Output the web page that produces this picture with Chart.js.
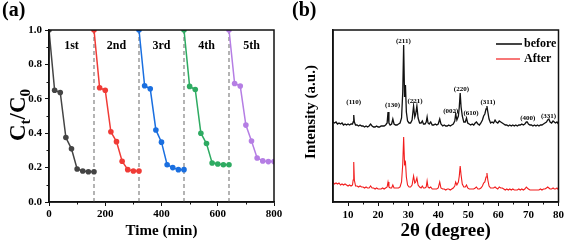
<!DOCTYPE html>
<html>
<head>
<meta charset="utf-8">
<script src="https://cdn.jsdelivr.net/npm/chart.js@4.4.0/dist/chart.umd.min.js"></script>
<style>
    html, body { margin: 0; padding: 0; background: #fff; }
    #wrap { position: relative; width: 567px; height: 243px; }
    #degChart { position: absolute; left: 0; top: 0; }
    #xrdChart { position: absolute; left: 290px; top: 0; }
</style>
</head>
<body>
<div id="wrap">
    <canvas id="degChart" width="290" height="243"></canvas>
    <canvas id="xrdChart" width="277" height="243"></canvas>
</div>
<script>
// ---- panel (a): cycling test data ----
const sampleTimes = [0, 20, 40, 60, 80, 100, 120, 140, 160];
const cycleStarts = [0, 160, 320, 480, 640];
const cycleNames = ['1st', '2nd', '3rd', '4th', '5th'];
const cycle1 = [1.0, 0.65, 0.637, 0.375, 0.309, 0.192, 0.18, 0.176, 0.176];
const cycle2 = [1.0, 0.664, 0.65, 0.408, 0.351, 0.237, 0.188, 0.18, 0.18];
const cycle3 = [1.0, 0.676, 0.658, 0.419, 0.348, 0.217, 0.2, 0.188, 0.188];
const cycle4 = [1.0, 0.672, 0.654, 0.4, 0.34, 0.227, 0.221, 0.217, 0.217];
const cycle5 = [1.0, 0.689, 0.674, 0.447, 0.355, 0.256, 0.239, 0.235, 0.235];
const timeTicks = [0, 200, 400, 600, 800];
const ratioTicks = [0, 0.2, 0.4, 0.6, 0.8, 1.0];

// ---- panel (b): XRD patterns ----
const xrdAngle = [
    5.0, 5.5, 6.0, 6.5, 7.0, 7.5, 8.0, 8.5, 9.0, 9.5,
    10.0, 10.5, 11.0, 11.5, 11.7, 11.9, 12.1, 12.5, 13.0, 13.5,
    14.0, 14.5, 15.0, 15.5, 16.0, 16.5, 17.0, 17.5, 18.0, 18.5,
    19.0, 19.5, 20.0, 20.5, 21.0, 21.5, 22.0, 22.5, 23.0, 23.3,
    23.6, 24.0, 24.5, 24.9, 25.3, 25.8, 26.3, 26.8, 27.3, 27.8,
    28.2, 28.5, 28.8, 29.1, 29.4, 29.8, 30.3, 30.8, 31.3, 31.8,
    32.2, 32.5, 32.9, 33.3, 33.8, 34.3, 34.7, 35.1, 35.6, 36.0,
    36.3, 36.6, 37.0, 37.5, 38.0, 38.5, 39.0, 39.5, 40.0, 40.5,
    40.9, 41.5, 42.0, 42.5, 43.0, 43.5, 44.0, 44.5, 45.0, 45.5,
    45.8, 46.2, 46.7, 47.0, 47.3, 47.6, 48.0, 48.5, 49.0, 49.4,
    49.8, 50.3, 50.8, 51.3, 51.8, 52.3, 52.7, 53.2, 53.7, 54.2,
    54.7, 55.1, 55.5, 55.9, 56.2, 56.5, 56.9, 57.4, 57.9, 58.4,
    58.9, 59.3, 59.8, 60.3, 60.8, 61.3, 61.8, 62.3, 62.8, 63.3,
    63.8, 64.3, 64.8, 65.3, 65.8, 66.3, 66.8, 67.3, 67.8, 68.3,
    68.8, 69.3, 69.6, 70.0, 70.5, 71.0, 71.5, 72.0, 72.5, 73.0,
    73.5, 74.0, 74.5, 75.0, 75.5, 76.0, 76.4, 76.8, 77.2, 77.7,
    78.2, 78.6, 79.0, 79.5, 80.0
];
const xrdBefore = [
    80, 79, 80, 78, 79, 78, 79, 77, 78, 77,
    78, 77, 78, 78, 80, 87, 80, 77, 77, 76,
    77, 76, 76, 75, 76, 75, 76, 78, 76, 75,
    75, 76, 75, 75, 76, 76, 76, 77, 79, 90,
    79, 77, 78, 83, 78, 77, 77, 78, 79, 84,
    110, 157, 105, 117, 90, 81, 79, 79, 82, 96,
    85, 88, 96, 84, 79, 79, 81, 78, 78, 80,
    85, 79, 78, 80, 77, 77, 78, 77, 78, 83,
    78, 76, 77, 76, 76, 77, 76, 77, 78, 81,
    88, 82, 86, 95, 109, 95, 86, 80, 80, 84,
    79, 78, 77, 78, 77, 79, 80, 78, 77, 79,
    82, 86, 88, 93, 96, 90, 83, 79, 80, 79,
    82, 80, 79, 81, 80, 79, 78, 77, 77, 76,
    77, 76, 77, 76, 77, 76, 77, 77, 78, 77,
    78, 80, 80, 78, 77, 77, 76, 77, 76, 77,
    76, 77, 77, 78, 79, 80, 82, 83, 80, 79,
    81, 80, 79, 80, 78
];
const xrdAfter = [
    20, 18, 19, 18, 19, 17, 18, 17, 18, 17,
    16, 17, 16, 17, 22, 40, 22, 16, 16, 15,
    16, 15, 15, 14, 15, 14, 14, 16, 14, 14,
    13, 14, 13, 13, 13, 14, 13, 14, 15, 20,
    15, 14, 14, 17, 14, 14, 14, 14, 15, 20,
    38, 65, 38, 40, 25, 17, 15, 15, 17, 26,
    19, 20, 24, 17, 15, 14, 16, 14, 14, 15,
    21, 15, 14, 15, 13, 13, 13, 13, 14, 20,
    14, 13, 13, 12, 13, 13, 12, 13, 14, 16,
    20, 17, 20, 26, 36, 27, 18, 15, 15, 17,
    14, 13, 13, 13, 13, 14, 15, 13, 13, 14,
    16, 19, 20, 25, 29, 22, 16, 14, 14, 14,
    15, 14, 13, 15, 14, 14, 13, 12, 13, 12,
    13, 12, 13, 12, 12, 12, 13, 12, 13, 12,
    13, 15, 14, 13, 12, 12, 12, 12, 12, 12,
    12, 13, 12, 13, 13, 14, 15, 14, 13, 13,
    14, 13, 13, 14, 12
];
const angleTicks = [10, 20, 30, 40, 50, 60, 70, 80];
const peakNames = ['(110)', '(130)', '(211)', '(221)', '(002)', '(220)', '(610)', '(311)', '(400)', '(331)'];
const peakAngles = [11.9, 24.8, 28.4, 32.3, 44.2, 47.7, 50.9, 56.5, 69.8, 76.7];
const peakLabelY = [100, 97, 161, 101, 91, 113, 89, 100, 84, 86];

const serif = "'Liberation Serif', 'Times New Roman', serif";
const cycleColors = ['#444444', '#f03b36', '#1a6fe0', '#2eab62', '#b57ee4'];

// draws the box round the plot area
function drawFrame(ctx, area) {
    ctx.save();
    ctx.strokeStyle = '#111';
    ctx.lineWidth = 1.5;
    ctx.strokeRect(area.left, area.top, area.right - area.left, area.bottom - area.top);
    ctx.restore();
}

const degDecor = {
    id: 'degDecor',
    beforeDatasetsDraw(chart) {
        const { ctx, scales: { x, y } } = chart;
        ctx.save();
        ctx.strokeStyle = '#8c8c8c';
        ctx.lineWidth = 1.3;
        ctx.setLineDash([4, 3]);
        cycleStarts.slice(1).forEach(function(t) {
            const px = x.getPixelForValue(t);
            ctx.beginPath();
            ctx.moveTo(px, y.getPixelForValue(0));
            ctx.lineTo(px, y.getPixelForValue(1));
            ctx.stroke();
        });
        ctx.restore();

        // cycle labels
        ctx.save();
        ctx.fillStyle = '#000';
        ctx.font = 'bold 12px ' + serif;
        ctx.textAlign = 'center';
        ctx.textBaseline = 'middle';
        cycleNames.forEach(function(name, i) {
            ctx.fillText(name, x.getPixelForValue(cycleStarts[i] + 80), y.getPixelForValue(0.91));
        });
        ctx.restore();
    },
    afterDraw(chart) {
        const { ctx, chartArea, scales: { x, y } } = chart;
        drawFrame(ctx, chartArea);

        // minor ticks
        ctx.save();
        ctx.strokeStyle = '#111';
        ctx.lineWidth = 1;
        [100, 300, 500, 700].forEach(function(t) {
            const px = Math.round(x.getPixelForValue(t)) + 0.5;
            ctx.beginPath();
            ctx.moveTo(px, chartArea.bottom);
            ctx.lineTo(px, chartArea.bottom + 2.5);
            ctx.stroke();
        });
        [0.1, 0.3, 0.5, 0.7, 0.9].forEach(function(v) {
            const py = Math.round(y.getPixelForValue(v)) + 0.5;
            ctx.beginPath();
            ctx.moveTo(chartArea.left, py);
            ctx.lineTo(chartArea.left - 2.5, py);
            ctx.stroke();
        });
        ctx.restore();

        // titles
        ctx.save();
        ctx.fillStyle = '#000';
        ctx.font = 'bold 15px ' + serif;
        ctx.textAlign = 'center';
        ctx.textBaseline = 'middle';
        ctx.fillText('Time (min)', (chartArea.left + chartArea.right) / 2, 231);

        ctx.font = 'bold 20px ' + serif;
        ctx.textAlign = 'left';
        ctx.textBaseline = 'alphabetic';
        ctx.fillText('(a)', 2, 16);

        // C_t / C_0
        ctx.translate(25, 115);
        ctx.rotate(-Math.PI / 2);
        const big = 'bold 23px ' + serif;
        const small = 'bold 15px ' + serif;
        const parts = [['C', big, 0], ['t', small, 5], ['/', big, 0], ['C', big, 0], ['0', small, 5]];
        let total = 0;
        parts.forEach(function(p) { ctx.font = p[1]; total += ctx.measureText(p[0]).width; });
        let cx = -total / 2;
        parts.forEach(function(p) {
            ctx.font = p[1];
            ctx.fillText(p[0], cx, p[2]);
            cx += ctx.measureText(p[0]).width;
        });
        ctx.restore();
    }
};

const cycles = [cycle1, cycle2, cycle3, cycle4, cycle5];

new Chart(document.getElementById('degChart'), {
    type: 'line',
    data: {
        datasets: cycles.map(function(vals, i) {
            return {
                data: vals.map(function(v, j) { return { x: cycleStarts[i] + sampleTimes[j], y: v }; }),
                borderColor: cycleColors[i],
                backgroundColor: cycleColors[i],
                borderWidth: 1.5,
                pointRadius: 2.8,
                pointBorderWidth: 0,
                tension: 0
            };
        })
    },
    options: {
        responsive: false,
        animation: false,
        layout: { padding: { left: 0, top: 30, right: 16, bottom: 0 } },
        plugins: { legend: { display: false }, tooltip: { enabled: false } },
        scales: {
            x: {
                type: 'linear', min: 0, max: 800,
                afterBuildTicks: function(s) { s.ticks = timeTicks.map(function(v) { return { value: v }; }); },
                afterFit: function(s) { s.height = 41; },
                ticks: { font: { family: serif, weight: 'bold', size: 11 }, color: '#000', padding: 2, maxRotation: 0 },
                grid: { drawOnChartArea: false, tickLength: 4, color: '#111', lineWidth: 1 },
                border: { color: '#111', width: 1.5 }
            },
            y: {
                min: 0, max: 1,
                afterBuildTicks: function(s) { s.ticks = ratioTicks.map(function(v) { return { value: v }; }); },
                afterFit: function(s) { s.width = 49; },
                ticks: {
                    font: { family: serif, weight: 'bold', size: 11 }, color: '#000', padding: 3,
                    callback: function(v) { return v.toFixed(1); }
                },
                grid: { drawOnChartArea: false, tickLength: 4, color: '#111', lineWidth: 1 },
                border: { color: '#111', width: 1.5 }
            }
        }
    },
    plugins: [degDecor]
});

const xrdDecor = {
    id: 'xrdDecor',
    afterDraw(chart) {
        const { ctx, chartArea, scales: { x, y } } = chart;
        drawFrame(ctx, chartArea);

        ctx.save();
        ctx.strokeStyle = '#111';
        ctx.lineWidth = 1;
        [15, 25, 35, 45, 55, 65, 75].forEach(function(t) {
            const px = Math.round(x.getPixelForValue(t)) + 0.5;
            ctx.beginPath();
            ctx.moveTo(px, chartArea.bottom);
            ctx.lineTo(px, chartArea.bottom + 2.5);
            ctx.stroke();
        });
        ctx.restore();

        // peak labels
        ctx.save();
        ctx.fillStyle = '#000';
        ctx.font = 'bold 7px ' + serif;
        ctx.textAlign = 'center';
        ctx.textBaseline = 'middle';
        peakNames.forEach(function(name, i) {
            ctx.fillText(name, x.getPixelForValue(peakAngles[i]), y.getPixelForValue(peakLabelY[i]));
        });
        ctx.restore();

        // legend
        ctx.save();
        ctx.lineWidth = 2;
        ctx.strokeStyle = '#444';
        ctx.beginPath(); ctx.moveTo(206, 44); ctx.lineTo(232, 44); ctx.stroke();
        ctx.lineWidth = 1.2;
        ctx.strokeStyle = '#f21c1c';
        ctx.beginPath(); ctx.moveTo(206, 59); ctx.lineTo(230, 59); ctx.stroke();
        ctx.fillStyle = '#000';
        ctx.font = 'bold 12px ' + serif;
        ctx.textBaseline = 'middle';
        ctx.fillText('before', 234, 44);
        ctx.fillText('After', 234, 59);
        ctx.restore();

        // titles
        ctx.save();
        ctx.fillStyle = '#000';
        ctx.font = 'bold 20px ' + serif;
        ctx.textBaseline = 'alphabetic';
        ctx.fillText('(b)', 2, 16);
        ctx.font = 'bold 19px ' + serif;
        ctx.textAlign = 'center';
        ctx.textBaseline = 'middle';
        ctx.fillText('2θ (degree)', (chartArea.left + chartArea.right) / 2, 231);
        ctx.translate(21, 112);
        ctx.rotate(-Math.PI / 2);
        ctx.font = 'bold 15px ' + serif;
        ctx.fillText('Intensity (a.u.)', 0, 0);
        ctx.restore();
    }
};

new Chart(document.getElementById('xrdChart'), {
    type: 'line',
    data: {
        datasets: [
            {
                label: 'before',
                data: xrdAngle.map(function(a, i) { return { x: a, y: xrdBefore[i] }; }),
                borderColor: '#111',
                borderWidth: 1.3,
                pointRadius: 0,
                tension: 0
            },
            {
                label: 'After',
                data: xrdAngle.map(function(a, i) { return { x: a, y: xrdAfter[i] }; }),
                borderColor: '#f21c1c',
                borderWidth: 1.1,
                pointRadius: 0,
                tension: 0
            }
        ]
    },
    options: {
        responsive: false,
        animation: false,
        layout: { padding: { left: 0, top: 30, right: 7, bottom: 0 } },
        plugins: { legend: { display: false }, tooltip: { enabled: false } },
        scales: {
            x: {
                type: 'linear', min: 5, max: 80,
                afterBuildTicks: function(s) { s.ticks = angleTicks.map(function(v) { return { value: v }; }); },
                afterFit: function(s) { s.height = 41; },
                ticks: { font: { family: serif, weight: 'bold', size: 11 }, color: '#000', padding: 3, maxRotation: 0 },
                grid: { drawOnChartArea: false, tickLength: 4, color: '#111', lineWidth: 1 },
                border: { color: '#111', width: 1.5 }
            },
            y: {
                min: 0, max: 172,
                afterFit: function(s) { s.width = 43; },
                ticks: { display: false },
                grid: { display: false },
                border: { color: '#111', width: 1.5 }
            }
        }
    },
    plugins: [xrdDecor]
});
</script>
</body>
</html>
